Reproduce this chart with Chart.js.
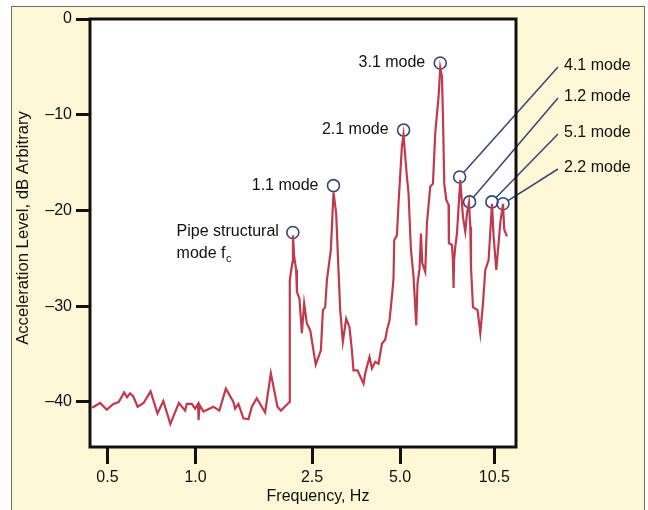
<!DOCTYPE html>
<html>
<head>
<meta charset="utf-8">
<script src="https://cdn.jsdelivr.net/npm/chart.js@4"></script>
<style>
  html, body { margin: 0; padding: 0; background: #fff; }
  #wrap { width: 648px; height: 510px; }
</style>
</head>
<body>
<div id="wrap"><canvas id="chart" width="648" height="510"></canvas></div>
<script>
// Acceleration spectrum: frequency (Hz) and level (dB, arbitrary)
const freqHz = [
  0.443, 0.472, 0.497, 0.524, 0.546, 0.570, 0.583, 0.597, 0.612, 0.634,
  0.664, 0.702, 0.741, 0.776, 0.820, 0.877, 0.921, 0.933, 0.971, 0.996,
  1.020, 1.024, 1.032, 1.064, 1.151, 1.206, 1.269, 1.347, 1.365, 1.401,
  1.457, 1.516, 1.557, 1.619, 1.729, 1.808, 1.871, 1.905, 1.957, 2.094,
  2.099, 2.118, 2.144, 2.152, 2.173, 2.207, 2.220, 2.265, 2.309, 2.350,
  2.401, 2.465, 2.574, 2.681, 2.724, 2.773, 2.811, 2.900, 2.961, 3.024,
  3.079, 3.121, 3.187, 3.271, 3.358, 3.422, 3.465, 3.576, 3.750, 3.800,
  3.931, 4.006, 4.112, 4.220, 4.336, 4.448, 4.508, 4.601, 4.689, 4.748,
  4.774, 4.877, 4.939, 5.073, 5.137, 5.277, 5.344, 5.446, 5.559, 5.678,
  5.736, 5.828, 5.893, 5.953, 6.095, 6.177, 6.340, 6.476, 6.595, 6.769,
  6.859, 6.952, 7.007, 7.079, 7.192, 7.323, 7.341, 7.522, 7.581, 7.617,
  7.647, 7.719, 7.824, 8.030, 8.202, 8.352, 8.465, 8.600, 8.688, 8.737,
  8.875, 9.202, 9.400, 9.601, 9.777, 10.034, 10.306, 10.437, 10.661, 10.855,
  11.001, 11.237, 11.352, 11.596
];
const levelDb = [
  -40.6, -40.1, -40.8, -40.2, -40.0, -39.0, -39.5, -39.1, -39.4, -40.5,
  -40.1, -38.9, -41.2, -39.9, -42.3, -40.1, -40.9, -40.2, -40.2, -40.7,
  -40.2, -41.9, -40.3, -41.0, -40.5, -40.9, -38.6, -40.0, -40.7, -40.2,
  -41.7, -41.8, -40.5, -39.6, -41.1, -37.0, -39.3, -40.5, -40.9, -40.0,
  -27.3, -26.4, -25.4, -22.6, -24.8, -26.2, -28.5, -29.2, -32.8, -29.7,
  -31.8, -32.5, -36.1, -34.6, -30.4, -30.1, -27.3, -24.1, -18.1, -20.3,
  -26.2, -30.4, -33.7, -31.3, -32.2, -34.6, -36.7, -36.7, -38.1, -37.0,
  -35.3, -36.5, -35.8, -36.0, -33.9, -33.5, -32.5, -31.5, -29.0, -27.1,
  -23.1, -22.6, -19.3, -13.3, -12.1, -16.5, -18.2, -24.1, -26.9, -32.0,
  -27.6, -26.1, -22.4, -25.5, -26.4, -21.3, -17.5, -17.2, -11.9, -8.1,
  -5.1, -6.0, -10.2, -17.2, -18.9, -19.4, -23.4, -23.6, -25.2, -28.1,
  -25.2, -23.8, -22.4, -16.8, -20.7, -22.2, -20.3, -19.2, -21.7, -25.9,
  -30.1, -30.4, -32.8, -29.7, -26.2, -25.2, -19.3, -22.7, -26.2, -23.4,
  -21.3, -19.3, -22.0, -22.7
];

// Marked modes
const modeNames = ['Pipe structural', '1.1 mode', '2.1 mode', '3.1 mode',
                   '4.1 mode', '1.2 mode', '5.1 mode', '2.2 mode'];
const modeFreq = [2.15, 2.96, 5.14, 6.86, 7.99, 8.64, 10.30, 11.24];
const modeLevel = [-22.3, -17.4, -11.6, -4.6, -16.5, -19.1, -19.1, -19.3];

// Axis ticks
const xTicks = [0.5, 1.0, 2.5, 5.0, 10.5];
const xTickLabels = ['0.5', '1.0', '2.5', '5.0', '10.5'];
const yTicks = [0, -10, -20, -30, -40];

const FONT = '"Liberation Sans", Arial, Helvetica, sans-serif';
const INK = '#111111';
const NAVY = '#34467a';

// yellow panel, white plot area, frame
const backdrop = {
  id: 'backdrop',
  beforeDraw(chart) {
    const ctx = chart.ctx;
    const a = chart.chartArea;
    ctx.save();
    ctx.fillStyle = '#ffffff';
    ctx.fillRect(0, 0, chart.width, chart.height);
    ctx.fillStyle = '#fdf7d5';
    ctx.fillRect(11, 6, 634, chart.height);
    ctx.strokeStyle = '#6f6f6f';
    ctx.lineWidth = 1;
    ctx.strokeRect(11.5, 6.5, 633, chart.height + 10);
    ctx.fillStyle = '#ffffff';
    ctx.fillRect(a.left, a.top, a.right - a.left, a.bottom - a.top);
    ctx.restore();
  },
  afterDraw(chart) {
    const ctx = chart.ctx;
    const a = chart.chartArea;
    ctx.save();
    ctx.strokeStyle = INK;
    ctx.lineWidth = 3;
    ctx.strokeRect(a.left, a.top, a.right - a.left, a.bottom - a.top);

    // axis titles
    ctx.fillStyle = INK;
    ctx.font = '16px ' + FONT;
    ctx.textAlign = 'center';
    ctx.textBaseline = 'middle';
    ctx.fillText('Frequency, Hz', 318, 497);
    ctx.font = '16.7px ' + FONT;
    ctx.translate(23, 228);
    ctx.rotate(-Math.PI / 2);
    ctx.fillText('Acceleration Level, dB Arbitrary', 0, 0);
    ctx.restore();
  }
};

// labels and leader lines for the modes
const rightLabelY = [66, 97, 133, 168];
const modeLabels = {
  id: 'modeLabels',
  afterDatasetsDraw(chart) {
    const ctx = chart.ctx;
    const pts = chart.getDatasetMeta(1).data;
    ctx.save();
    ctx.font = '16px ' + FONT;
    ctx.fillStyle = INK;
    ctx.textBaseline = 'middle';
    pts.forEach((p, i) => {
      if (i === 0) {
        ctx.textAlign = 'right';
        ctx.fillText(modeNames[0], p.x - 14, p.y - 1);
        const left = p.x - 14 - ctx.measureText(modeNames[0]).width;
        ctx.textAlign = 'left';
        ctx.fillText('mode f', left, p.y + 21);
        const w = ctx.measureText('mode f').width;
        ctx.font = '11px ' + FONT;
        ctx.fillText('c', left + w + 0.5, p.y + 26);
        ctx.font = '16px ' + FONT;
      } else if (i < 4) {
        ctx.textAlign = 'right';
        ctx.fillText(modeNames[i], p.x - 15, p.y);
      } else {
        const ly = rightLabelY[i - 4];
        ctx.textAlign = 'left';
        ctx.fillText(modeNames[i], 564, ly);
        const sx = 558, sy = ly + 1;
        const dx = sx - p.x, dy = sy - p.y;
        const d = Math.hypot(dx, dy);
        ctx.strokeStyle = NAVY;
        ctx.lineWidth = 1.5;
        ctx.beginPath();
        ctx.moveTo(sx, sy);
        ctx.lineTo(p.x + dx / d * 6, p.y + dy / d * 6);
        ctx.stroke();
      }
    });
    ctx.restore();
  }
};

new Chart(document.getElementById('chart'), {
  type: 'line',
  data: {
    datasets: [
      {
        label: 'Acceleration level',
        data: freqHz.map((f, i) => ({ x: f, y: levelDb[i] })),
        borderColor: '#c2394c',
        borderWidth: 2.2,
        pointRadius: 0,
        tension: 0,
        fill: false
      },
      {
        label: 'Modes',
        data: modeFreq.map((f, i) => ({ x: f, y: modeLevel[i] })),
        showLine: false,
        pointRadius: 6,
        pointBorderWidth: 1.6,
        pointBorderColor: NAVY,
        pointBackgroundColor: 'rgba(0,0,0,0)',
        clip: false
      }
    ]
  },
  options: {
    responsive: false,
    animation: false,
    devicePixelRatio: 1,
    layout: { padding: { left: 0, top: 19, right: 132, bottom: 0 } },
    plugins: {
      legend: { display: false },
      tooltip: { enabled: false }
    },
    scales: {
      x: {
        type: 'logarithmic',
        min: 0.4357,
        max: 12.45,
        afterBuildTicks: s => { s.ticks = xTicks.map(v => ({ value: v })); },
        afterFit: s => { s.height = 63; },
        border: { display: false },
        grid: {
          drawOnChartArea: false,
          drawTicks: true,
          tickLength: 17,
          lineWidth: 3,
          color: INK
        },
        ticks: {
          autoSkip: false,
          maxRotation: 0,
          padding: 4,
          color: INK,
          font: { family: FONT, size: 16 },
          callback: (v, i) => xTickLabels[i]
        }
      },
      y: {
        min: -44.7,
        max: 0,
        afterBuildTicks: s => { s.ticks = yTicks.map(v => ({ value: v })); },
        afterFit: s => { s.width = 90; },
        border: { display: false },
        grid: {
          drawOnChartArea: false,
          drawTicks: true,
          tickLength: 14,
          lineWidth: 3,
          color: INK
        },
        ticks: {
          padding: 4,
          color: INK,
          font: { family: FONT, size: 16 },
          callback: v => (v < 0 ? '\u2013' + Math.abs(v) : String(v))
        }
      }
    }
  },
  plugins: [backdrop, modeLabels]
});
</script>
</body>
</html>
